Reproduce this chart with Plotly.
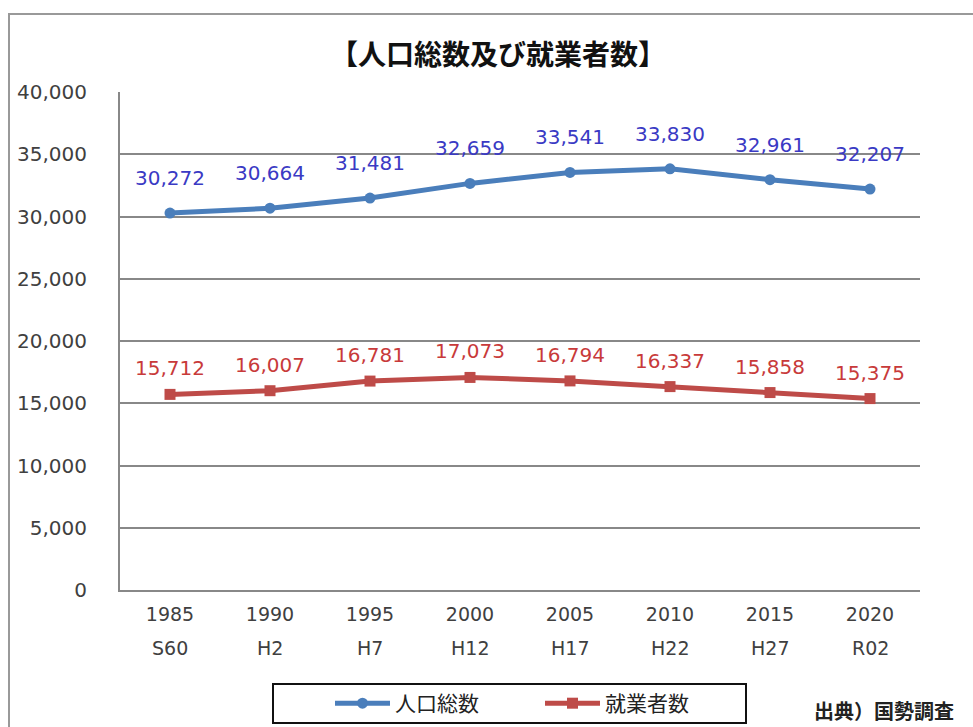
import plotly.graph_objects as go

years = ["1985", "1990", "1995", "2000", "2005", "2010", "2015", "2020"]
eras = ["S60", "H2", "H7", "H12", "H17", "H22", "H27", "R02"]
population = [30272, 30664, 31481, 32659, 33541, 33830, 32961, 32207]
workers = [15712, 16007, 16781, 17073, 16794, 16337, 15858, 15375]
y_ticks = [0, 5000, 10000, 15000, 20000, 25000, 30000, 35000, 40000]

FONT = "Noto Sans CJK JP"
NUM_FONT = "DejaVu Sans"
BLUE = "#4A7EBB"
RED = "#BE4B48"
BLUE_TXT = "#3A3AC4"
RED_TXT = "#C83A3A"

fig = go.Figure()
fig.add_trace(go.Scatter(
    x=years, y=population, name="人口総数", mode="lines+markers",
    line=dict(color=BLUE, width=5), marker=dict(symbol="circle", size=11, color=BLUE),
))
fig.add_trace(go.Scatter(
    x=years, y=workers, name="就業者数", mode="lines+markers",
    line=dict(color=RED, width=5), marker=dict(symbol="square", size=11, color=RED),
))

annotations = []
for i, v in enumerate(population):
    annotations.append(dict(x=i, y=v, xref="x", yref="y", text=f"{v:,}", showarrow=False,
                            yshift=35, font=dict(family=NUM_FONT, size=20, color=BLUE_TXT)))
for i, v in enumerate(workers):
    annotations.append(dict(x=i, y=v, xref="x", yref="y", text=f"{v:,}", showarrow=False,
                            yshift=26, font=dict(family=NUM_FONT, size=20, color=RED_TXT)))
for i, e in enumerate(eras):
    annotations.append(dict(x=i, y=-0.1165, xref="x", yref="paper", text=e, showarrow=False,
                            yanchor="middle", font=dict(family=NUM_FONT, size=19, color="#404040")))
annotations.append(dict(x=1.045, y=-0.241, xref="paper", yref="paper", text="<b>出典）国勢調査</b>",
                        showarrow=False, xanchor="right", yanchor="middle",
                        font=dict(family=FONT, size=20, color="#222222")))

fig.update_layout(
    width=973, height=727,
    margin=dict(l=120, r=53, t=92, b=137, autoexpand=False),
    paper_bgcolor="white", plot_bgcolor="white",
    title=dict(text="<b>【人口総数及び就業者数】</b>", x=498 / 973, xref="container", xanchor="center",
               y=1 - 55 / 727, yref="container", yanchor="middle",
               font=dict(family=FONT, size=28, color="#111111")),
    xaxis=dict(type="category", range=[-0.5, 7.5], showgrid=False, showline=True,
               linecolor="#888888", linewidth=2, ticks="", ticklabelstandoff=6,
               tickfont=dict(family=NUM_FONT, size=19, color="#404040"), zeroline=False),
    yaxis=dict(range=[0, 40000], tickvals=y_ticks, tickformat=",", showgrid=True,
               gridcolor="#888888", gridwidth=2, showline=True, linecolor="#888888", linewidth=2,
               ticks="", ticklabelstandoff=27, zeroline=False,
               tickfont=dict(family=NUM_FONT, size=20, color="#404040")),
    showlegend=True,
    legend=dict(orientation="h", x=0.2625, y=-0.228, xanchor="left", yanchor="middle",
                borderwidth=0, bgcolor="rgba(0,0,0,0)",
                font=dict(family=FONT, size=21, color="#222222"),
                entrywidth=140, itemwidth=55),
    annotations=annotations,
    shapes=[
        dict(type="rect", xref="paper", yref="paper", x0=(9 - 120) / 800, x1=1.2,
             y0=-0.4, y1=(590 - 14) / 498, line=dict(color="#999999", width=2), layer="below"),
        dict(type="rect", xref="paper", yref="paper", x0=(273 - 120) / 800, x1=(746 - 120) / 800,
             y0=(590 - 723) / 498, y1=(590 - 684) / 498, line=dict(color="#111111", width=2),
             layer="below"),
    ],
)

fig.write_html("out.html", config={"displayModeBar": False},
               post_script="document.body.style.margin='0';")
